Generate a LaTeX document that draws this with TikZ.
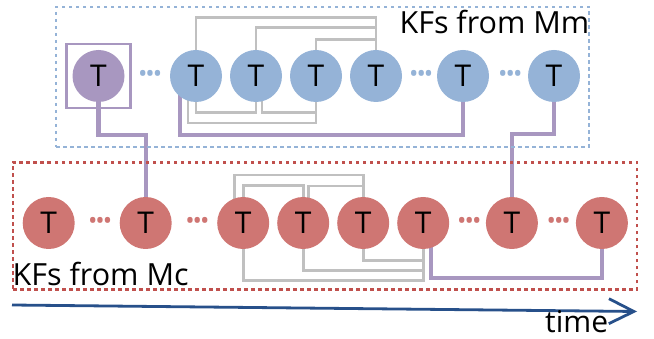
\documentclass[tikz,border=0pt]{standalone}
\usepackage{fontspec}
\setmainfont{Open Sans}
\usetikzlibrary{positioning,calc,backgrounds,arrows.meta}

\definecolor{mmblue}{HTML}{95B3D7}
\definecolor{mcred}{HTML}{CF7673}
\definecolor{mcdash}{HTML}{C0504D}
\definecolor{kfpurple}{HTML}{A897C0}
\definecolor{linkgray}{HTML}{C0C0C0}
\definecolor{timeblue}{HTML}{27508A}

\newcommand{\kfdots}{\textbullet\kern-2pt\textbullet\kern-2pt\textbullet}

\tikzset{
    kf/.style={circle, minimum size=52pt, inner sep=0pt, font=\fontsize{30}{30}\selectfont},
    mmkf/.style={kf, fill=mmblue},
    mckf/.style={kf, fill=mcred},
    selkf/.style={kf, fill=kfpurple},
    kfdotsnode/.style={inner sep=0pt, font=\fontsize{25}{25}\selectfont},
    region/.style={draw, line width=2.8pt, dash pattern=on 3.5pt off 3.5pt},
    glink/.style={draw=linkgray, line width=2.7pt},
    plink/.style={draw=kfpurple, line width=4.3pt},
    label/.style={inner sep=0pt, font=\fontsize{30.5}{30.5}\selectfont}
}

\begin{document}
\begin{tikzpicture}[x=1pt, y=-1pt, node distance=60pt]
        \useasboundingbox (0,0) rectangle (654,339);

        % Regions
        \node (mmbox) [region, draw=mmblue, minimum width=533pt, minimum height=140pt] at (322.5,77) {};
        \node (mcbox) [region, draw=mcdash, minimum width=624pt, minimum height=127pt] at (325,226) {};
        \node (mmlabel) [label, anchor=base east] at (589.5,33.5) {KFs from Mm};
        \node (mclabel) [label, anchor=base west] at (12.5,286) {KFs from Mc};

        % Nodes from Mm
        \node (b1) [mmkf] at (196,76) {T};
        \node (b2) [mmkf, right of=b1] {T};
        \node (b3) [mmkf, right of=b2] {T};
        \node (b4) [mmkf, right of=b3] {T};
        \node (b5) [mmkf, right of=b4, node distance=87pt] {T};
        \node (b6) [mmkf, right of=b5, node distance=91pt] {T};
        \node (p1) [selkf, left of=b1, node distance=97.5pt] {T};
        \node (pbox) [draw=kfpurple, line width=2.8pt, minimum size=64pt] at (p1) {};

        % Nodes from Mc
        \node (r1) [mckf] at (48.7,223) {T};
        \node (r2) [mckf, right of=r1, node distance=97pt] {T};
        \node (r3) [mckf, right of=r2, node distance=97.5pt] {T};
        \node (r4) [mckf, right of=r3] {T};
        \node (r5) [mckf, right of=r4] {T};
        \node (r6) [mckf, right of=r5] {T};
        \node (r7) [mckf, right of=r6, node distance=88.7pt] {T};
        \node (r8) [mckf, right of=r7, node distance=90pt] {T};

        % Dots
        \node (bd1) [kfdotsnode, text=mmblue] at ($(p1)!0.53!(b1)$) {\kfdots};
        \node (bd2) [kfdotsnode, text=mmblue] at ($(b4)!0.52!(b5)$) {\kfdots};
        \node (bd3) [kfdotsnode, text=mmblue] at ($(b5)!0.52!(b6)$) {\kfdots};
        \node (rd1) [kfdotsnode, text=mcred] at ($(r1)!0.53!(r2)$) {\kfdots};
        \node (rd2) [kfdotsnode, text=mcred] at ($(r2)!0.53!(r3)$) {\kfdots};
        \node (rd3) [kfdotsnode, text=mcred] at ($(r6)!0.52!(r7)$) {\kfdots};
        \node (rd4) [kfdotsnode, text=mcred] at ($(r7)!0.52!(r8)$) {\kfdots};

        % Time axis
        \coordinate (tstart) at (12,305);
        \coordinate (tend) at (637,311.5);
        \draw [timeblue, line width=2.8pt, -{Straight Barb[length=25pt, width=25pt]}] (tstart) -- (tend);
        \node (time) [label, font=\fontsize{30}{30}\selectfont, anchor=base west] at (545,333) {time};

        % Links
        \begin{scope}[on background layer]
        \draw [glink] (b1.north) -- ++(0,-32) -| (b4.north);
        \draw [glink] (b2.north) -- ++(0,-22) -| (b4.north);
        \draw [glink] (b3.north) -- ++(0,-10) -| (b4.north);
        \draw [glink] (b1.south) -- ++(0,10.5) -| (b2.south);
        \draw [glink] ([xshift=6pt]b2.center) -- ++(0,36.5) -| (b3.south);
        \draw [glink] ([xshift=-8pt]b1.center) -- ++(0,47) -| (b3.south);

        \draw [glink] ([xshift=-9pt]r3.center) -- ++(0,-48) -| (r5.north);
        \draw [glink] (r3.north) -- ++(0,-11) -| (r4.north);
        \draw [glink] ([xshift=5pt]r4.center) -- ++(0,-37) -| (r5.north);
        \draw [glink] (r5.south) -- ++(0,11) -| (r6.south);
        \draw [glink] (r4.south) -- ++(0,21) -| (r6.south);
        \draw [glink] (r3.south) -- ++(0,31) -| (r6.south);

        \draw [plink] (p1.south) -- ++(0,33) -| (r2.north);
        \draw [plink] ([xshift=-16pt]b1.center) -- ++(0,59) -| (b5.south);
        \draw [plink] (b6.south) -- ++(0,32) -| (r7.north);
        \draw [plink] ([xshift=8pt]r6.center) -- ++(0,55) -| (r8.south);
        \end{scope}

    \end{tikzpicture}
\end{document}
